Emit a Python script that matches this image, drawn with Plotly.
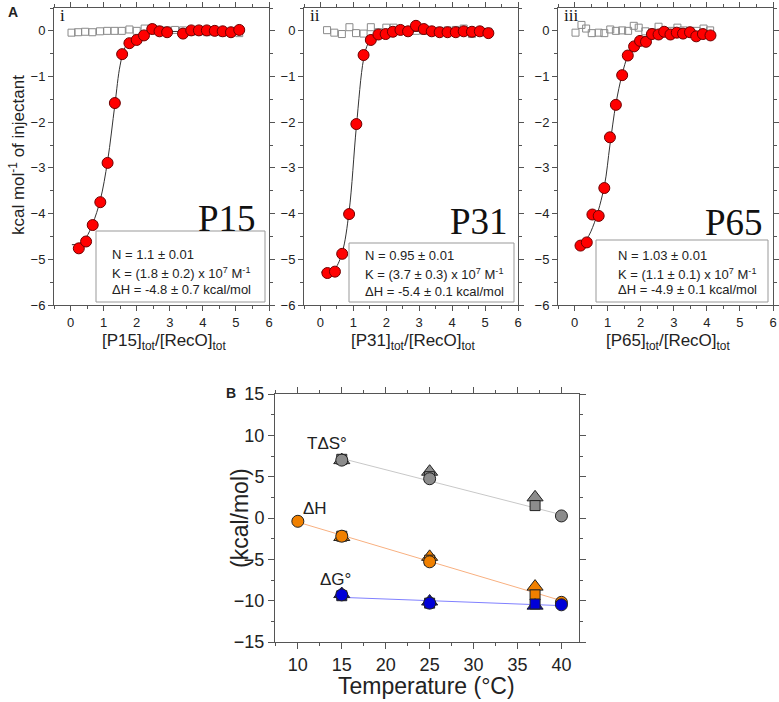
import plotly.graph_objects as go

W, H = 779, 702

# ---------------- Panel A data ----------------
p15_x = [0.25, 0.47, 0.67, 0.90, 1.12, 1.34, 1.56, 1.78, 2.00, 2.22, 2.47, 2.69, 2.92, 3.40, 3.65, 3.88, 4.12, 4.36, 4.60, 4.85, 5.10]
p15_y = [-4.76, -4.61, -4.25, -3.75, -2.89, -1.58, -0.51, -0.27, -0.20, -0.10, 0.04, -0.01, -0.03, -0.06, 0.01, 0.01, 0.01, 0.00, -0.01, -0.03, 0.02]
p15_ctrl_x = [0.03, 0.23, 0.44, 0.66, 0.89, 1.11, 1.33, 1.55, 1.78, 2.00, 2.24, 2.47, 2.69, 2.92, 3.16, 3.40, 3.65, 3.88, 4.12, 4.36, 4.60, 4.85, 5.10]
p15_ctrl_y = [-0.04, -0.03, -0.02, -0.03, -0.01, 0.00, 0.00, 0.00, 0.03, 0.00, 0.05, 0.06, 0.02, 0.01, 0.02, 0.01, -0.02, -0.01, -0.03, -0.02, -0.04, -0.04, -0.05]
p15_fit_x = [0.04, 0.25, 0.47, 0.67, 0.90, 1.12, 1.34, 1.50, 1.65, 1.90, 2.20, 2.60, 3.50, 5.10]
p15_fit_y = [-4.68, -4.66, -4.52, -4.22, -3.70, -2.85, -1.62, -0.75, -0.36, -0.17, -0.08, -0.03, -0.01, 0.00]

p31_x = [0.21, 0.44, 0.66, 0.87, 1.09, 1.31, 1.53, 1.76, 1.98, 2.20, 2.43, 2.66, 2.90, 3.14, 3.38, 3.62, 3.86, 4.11, 4.35, 4.60, 4.84, 5.10]
p31_y = [-5.30, -5.27, -4.88, -4.01, -2.04, -0.53, -0.20, -0.08, -0.07, -0.02, 0.02, -0.01, 0.11, 0.04, -0.01, -0.03, -0.03, -0.03, -0.01, -0.02, -0.01, -0.05]
p31_ctrl_x = [0.20, 0.42, 0.65, 0.88, 1.08, 1.31, 1.53, 1.76, 2.00, 2.22, 2.43, 2.66, 2.90, 3.14, 3.38, 3.62, 3.86, 4.11, 4.35, 4.60, 4.84, 5.10]
p31_ctrl_y = [0.015, -0.04, -0.07, 0.08, -0.05, -0.06, 0.08, -0.03, 0.07, 0.07, 0.02, 0.00, 0.00, 0.00, -0.01, 0.00, 0.01, 0.02, 0.05, -0.07, 0.00, -0.02]
p31_fit_x = [0.02, 0.21, 0.44, 0.66, 0.87, 1.09, 1.31, 1.45, 1.60, 1.90, 2.50, 3.50, 5.10]
p31_fit_y = [-5.28, -5.27, -5.20, -4.85, -3.95, -2.10, -0.62, -0.27, -0.13, -0.06, -0.02, -0.01, 0.00]

p65_x = [0.18, 0.37, 0.54, 0.73, 0.90, 1.07, 1.25, 1.44, 1.61, 1.80, 1.98, 2.16, 2.34, 2.54, 2.71, 2.90, 3.09, 3.28, 3.49, 3.68, 3.88, 4.11]
p65_y = [-4.70, -4.63, -4.02, -4.05, -3.44, -2.33, -1.62, -0.97, -0.54, -0.34, -0.22, -0.24, -0.07, -0.08, -0.02, -0.08, -0.04, -0.06, -0.03, -0.12, -0.07, -0.10]
p65_ctrl_x = [0.03, 0.21, 0.35, 0.52, 0.73, 0.90, 1.08, 1.25, 1.44, 1.62, 1.79, 1.94, 2.14, 2.34, 2.54, 2.74, 2.94, 3.11, 3.29, 3.49, 3.69, 3.90, 4.10]
p65_ctrl_y = [-0.04, 0.13, 0.05, -0.05, -0.04, -0.05, 0.03, 0.00, 0.01, 0.00, 0.11, 0.07, -0.01, -0.03, 0.09, -0.01, 0.00, 0.07, 0.01, 0.00, 0.00, 0.05, 0.01]
p65_fit_x = [0.03, 0.18, 0.37, 0.60, 0.90, 1.07, 1.25, 1.44, 1.61, 1.80, 2.00, 2.30, 2.70, 3.50, 4.11]
p65_fit_y = [-4.68, -4.66, -4.55, -4.20, -3.40, -2.50, -1.60, -0.95, -0.55, -0.33, -0.20, -0.11, -0.07, -0.05, -0.05]

panel_names = ["P15", "P31", "P65"]
panel_numerals = ["i", "ii", "iii"]
stats_N = ["N = 1.1 ± 0.01", "N = 0.95 ± 0.01", "N = 1.03 ± 0.01"]
stats_K = ["K = (1.8 ± 0.2) x 10<sup>7</sup> M<sup>-1</sup>",
           "K = (3.7 ± 0.3) x 10<sup>7</sup> M<sup>-1</sup>",
           "K = (1.1 ± 0.1) x 10<sup>7</sup> M<sup>-1</sup>"]
stats_H = ["ΔH = -4.8 ± 0.7 kcal/mol", "ΔH = -5.4 ± 0.1 kcal/mol", "ΔH = -4.9 ± 0.1 kcal/mol"]
xa_titles = ["[P15]<sub>tot</sub>/[RecO]<sub>tot</sub>",
             "[P31]<sub>tot</sub>/[RecO]<sub>tot</sub>",
             "[P65]<sub>tot</sub>/[RecO]<sub>tot</sub>"]

# ---------------- Panel B data ----------------
tds_circ_T = [15, 25, 40]
tds_circ_v = [7.0, 4.75, 0.25]
tds_tri_T = [15, 25, 37]
tds_tri_v = [7.0, 5.6, 2.5]
tds_sq_T = [15, 25, 37]
tds_sq_v = [7.1, 5.0, 1.5]
dh_circ_T = [10, 15, 25, 40]
dh_circ_v = [-0.4, -2.2, -5.3, -10.2]
dh_tri_T = [15, 25, 37]
dh_tri_v = [-2.3, -4.7, -8.3]
dh_sq_T = [15, 25, 37]
dh_sq_v = [-2.2, -5.1, -9.3]
dg_circ_T = [15, 25, 40]
dg_circ_v = [-9.3, -10.3, -10.5]
dg_tri_T = [15, 25, 37]
dg_tri_v = [-9.2, -10.1, -10.6]
dg_sq_T = [15, 25, 37]
dg_sq_v = [-9.4, -10.3, -10.4]
tds_fit_T = [15, 40]
tds_fit_v = [7.2, 0.4]
dh_fit_T = [10, 40]
dh_fit_v = [-0.5, -10.0]
dg_fit_T = [15, 40]
dg_fit_v = [-9.6, -10.6]

# ---------------- helpers ----------------
def px(x):
    return x / W

def py(y):
    return 1 - y / H

FONT = "Arial, Liberation Sans, Arimo, sans-serif"
SERIF = "Times New Roman, Liberation Serif, serif"
AXC = "#555555"

fig = go.Figure()

a_domains_x = [(54, 269), (304, 518), (558, 773)]
a_domain_y = (8, 305)
data_sets = [
    (p15_x, p15_y, p15_ctrl_x, p15_ctrl_y, p15_fit_x, p15_fit_y),
    (p31_x, p31_y, p31_ctrl_x, p31_ctrl_y, p31_fit_x, p31_fit_y),
    (p65_x, p65_y, p65_ctrl_x, p65_ctrl_y, p65_fit_x, p65_fit_y),
]
boxes = [(96, 231, 265, 302), (349, 243, 514, 302), (596, 240, 768, 302)]
text_x = [110, 363, 616]
text_rows = [(254, 273, 289), (256, 274, 291), (255, 274, 290)]
name_pos = [(258, 218), (510, 221), (765, 222)]

layout_axes = {}
for i in range(3):
    xn = "x" if i == 0 else f"x{i+1}"
    yn = "y" if i == 0 else f"y{i+1}"
    xk = "xaxis" if i == 0 else f"xaxis{i+1}"
    yk = "yaxis" if i == 0 else f"yaxis{i+1}"
    dx, dy, cx, cy, fx, fy = data_sets[i]
    fig.add_trace(go.Scatter(x=cx, y=cy, mode="markers", xaxis=xn, yaxis=yn,
                             marker=dict(symbol="square-open", size=7, color="#8a8a8a",
                                         line=dict(width=1, color="#8a8a8a")),
                             showlegend=False))
    fig.add_trace(go.Scatter(x=fx, y=fy, mode="lines", line_shape="spline", xaxis=xn, yaxis=yn,
                             line=dict(color="#333333", width=1), showlegend=False))
    fig.add_trace(go.Scatter(x=dx, y=dy, mode="markers", xaxis=xn, yaxis=yn,
                             marker=dict(symbol="circle", size=11, color="#ff0000",
                                         line=dict(width=1, color="#700000")),
                             showlegend=False))
    x0, x1 = a_domains_x[i]
    common = dict(showline=True, linecolor=AXC, linewidth=1, mirror="ticks", automargin=False,
                  ticks="outside", ticklen=5, tickcolor=AXC, showgrid=False, zeroline=False,
                  tickfont=dict(family=FONT, size=13, color="#222222"))
    layout_axes[xk] = dict(domain=[px(x0), px(x1)], range=[-0.5, 6], dtick=1, tick0=0,
                           anchor=yn, minor=dict(ticks="outside", dtick=0.5, ticklen=3, tickcolor=AXC),
                           **common)
    layout_axes[yk] = dict(domain=[py(a_domain_y[1]), py(a_domain_y[0])], range=[-6, 0.5],
                           dtick=1, tick0=0, anchor=xn,
                           minor=dict(ticks="outside", dtick=0.5, ticklen=3, tickcolor=AXC),
                           **common)

# Panel B traces
TC = "#8c8c8c"
OC = "#f08000"
BC = "#0000d8"

def add_b(T, v, sym, color, size):
    fig.add_trace(go.Scatter(x=T, y=v, mode="markers", xaxis="x4", yaxis="y4",
                             marker=dict(symbol=sym, size=size, color=color,
                                         line=dict(width=1, color="#222222")),
                             error_y=dict(type="constant", value=0.25, width=3, thickness=1, color="#222222"),
                             showlegend=False))

fig.add_trace(go.Scatter(x=tds_fit_T, y=tds_fit_v, mode="lines", xaxis="x4", yaxis="y4",
                         line=dict(color="#c8c8c8", width=1), showlegend=False))
fig.add_trace(go.Scatter(x=dh_fit_T, y=dh_fit_v, mode="lines", xaxis="x4", yaxis="y4",
                         line=dict(color="#f8b080", width=1), showlegend=False))
fig.add_trace(go.Scatter(x=dg_fit_T, y=dg_fit_v, mode="lines", xaxis="x4", yaxis="y4",
                         line=dict(color="#8080ff", width=1), showlegend=False))

add_b(tds_tri_T, tds_tri_v, "triangle-up", TC, 14)
add_b(tds_sq_T, tds_sq_v, "square", TC, 10)
add_b(tds_circ_T, tds_circ_v, "circle", TC, 12)
add_b(dh_tri_T, dh_tri_v, "triangle-up", OC, 14)
add_b(dh_sq_T, dh_sq_v, "square", OC, 10)
add_b(dh_circ_T, dh_circ_v, "circle", OC, 12)
add_b(dg_tri_T, dg_tri_v, "triangle-up", BC, 14)
add_b(dg_sq_T, dg_sq_v, "square", BC, 10)
add_b(dg_circ_T, dg_circ_v, "circle", BC, 12)

commonB = dict(showline=True, linecolor=AXC, linewidth=1, mirror="ticks", automargin=False,
               ticks="outside", ticklen=6, tickcolor=AXC, showgrid=False, zeroline=False,
               tickfont=dict(family=FONT, size=18, color="#222222"))
layout_axes["xaxis4"] = dict(domain=[px(275), px(579)], range=[7.4, 42], dtick=5, tick0=0,
                             anchor="y4", minor=dict(ticks="outside", dtick=2.5, ticklen=3, tickcolor=AXC),
                             **commonB)
layout_axes["yaxis4"] = dict(domain=[py(642), py(394)], range=[-15, 15], dtick=5, tick0=0,
                             anchor="x4", minor=dict(ticks="outside", dtick=2.5, ticklen=3, tickcolor=AXC),
                             **commonB)

annotations = []
shapes = []

def ann(x, y, text, size, family=FONT, xanchor="center", yanchor="middle", angle=0, color="#222222", bold=False):
    if bold:
        text = f"<b>{text}</b>"
    annotations.append(dict(x=px(x), y=py(y), xref="paper", yref="paper", text=text,
                            showarrow=False, xanchor=xanchor, yanchor=yanchor, textangle=angle,
                            font=dict(family=family, size=size, color=color)))

for i in range(3):
    bx0, by0, bx1, by1 = boxes[i]
    shapes.append(dict(type="rect", xref="paper", yref="paper", x0=px(bx0), x1=px(bx1),
                       y0=py(by1), y1=py(by0), line=dict(color="#999999", width=1),
                       fillcolor="white", layer="above"))
    tx = text_x[i]
    r1, r2, r3 = text_rows[i]
    ann(tx, r1, stats_N[i], 13, xanchor="left")
    ann(tx, r2, stats_K[i], 13, xanchor="left")
    ann(tx, r3, stats_H[i], 13, xanchor="left")
    nx, ny = name_pos[i]
    ann(nx, ny, panel_names[i], 37, family=SERIF, xanchor="right", color="#111111")
    x0, x1 = a_domains_x[i]
    ann(x0 + 4, 15, panel_numerals[i], 17, family=SERIF, xanchor="left", color="#111111")
    ann((x0 + x1) / 2 + 2, 342, xa_titles[i], 17)

ann(17, 155, "kcal mol<sup>-1</sup> of injectant", 17, angle=-90)
ann(13, 12, "A", 14, bold=True)
ann(231, 393, "B", 14, bold=True)

ann(327, 443, "TΔS°", 17)
ann(315, 508, "ΔH", 17)
ann(335, 579, "ΔG°", 17)
ann(427, 686, "Temperature (°C)", 23)
ann(240, 518, "(kcal/mol)", 23, angle=-90)

fig.update_layout(width=W, height=H, margin=dict(l=0, r=0, t=0, b=0, autoexpand=False),
                  paper_bgcolor="white", plot_bgcolor="white",
                  annotations=annotations, shapes=shapes, **layout_axes)

fig.write_html("out.html", config={"displayModeBar": False},
               post_script="document.body.style.margin='0';document.body.style.padding='0';")
